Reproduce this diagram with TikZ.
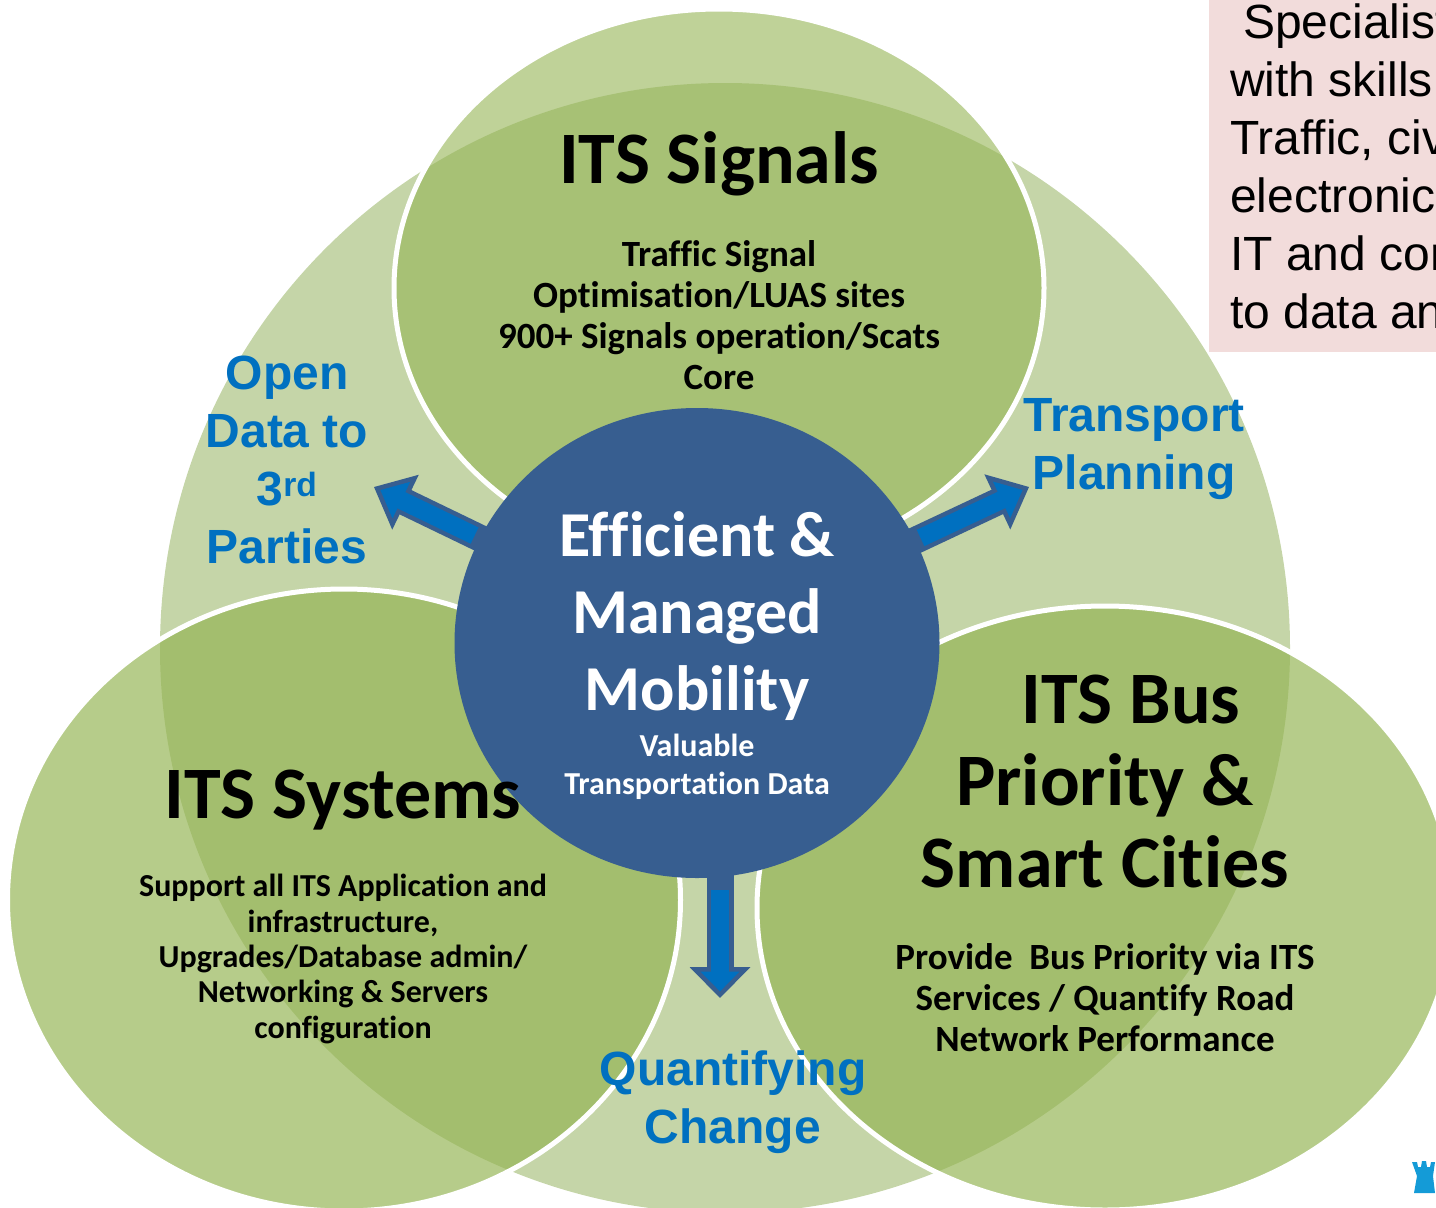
\documentclass[tikz,border=0pt]{standalone}
\usepackage{fontspec}
\setmainfont{Carlito}[Ligatures=NoCommon]
\newfontfamily\arialfont{Liberation Sans}
\usetikzlibrary{arrows.meta}
\usetikzlibrary{shapes.geometric}
\usetikzlibrary{backgrounds}
\definecolor{lsage}{RGB}{197,213,168}
\definecolor{lolive}{RGB}{148,180,83}
\definecolor{lhub}{RGB}{55,94,144}
\definecolor{lflow}{RGB}{0,112,192}
\definecolor{lpink}{RGB}{242,220,219}
\definecolor{ltower}{RGB}{20,155,215}

\tikzset{
  lobe/.style={ellipse,inner sep=0pt,draw=white,line width=5pt,fill=lolive,fill opacity=#1},
  headline/.style={align=center,text=black,font=\bfseries\fontsize{74}{82}\selectfont},
  bodytext/.style={align=center,text=black,font=\bfseries\fontsize{37}{41}\selectfont},
  smalltext/.style={align=center,text=black,font=\bfseries\fontsize{32}{35.3}\selectfont},
  flowlabel/.style={align=center,text=lflow,font=\arialfont\bfseries\fontsize{48}{58}\selectfont},
  flowarrow/.style 2 args={draw=lhub,line width=27pt,
    -{Triangle[length=#1,width=60pt,line width=4.5pt,fill=lflow]},
    postaction={draw=lflow,-,line width=18pt,shorten <=247pt,shorten >=#2}}
}

\begin{document}
\begin{tikzpicture}[x=1pt,y=-1pt]
  \useasboundingbox (0,0) rectangle (1436,1208);
  \clip (0,0) rectangle (1436,1208);

  \node[ellipse,inner sep=0pt,fill=lhub,minimum width=485pt,minimum height=470pt] (hub) at (697,643) {};
  \coordinate (openTip) at (374,487);
  \coordinate (planTip) at (1029,487);
  \coordinate (changeTip) at (720,998);

  \begin{scope}[on background layer]
    \node[ellipse,inner sep=0pt,fill=lsage,minimum width=1130pt,minimum height=1130pt] (field) at (725,648) {};
    \node[lobe=0.6,minimum width=650pt,minimum height=558pt] (signals) at (719,288) {};
    \node[lobe=0.68,minimum width=673pt,minimum height=622pt] (systems) at (344,900) {};
    \node[lobe=0.68,minimum width=696pt,minimum height=604pt] (bus) at (1105,908) {};
    \draw[flowarrow={35pt}{20pt}] (hub.center) -- (openTip);
    \draw[flowarrow={35pt}{20pt}] (hub.center) -- (planTip);
    \draw[flowarrow={31pt}{17pt}] (hub.center -| changeTip) -- (changeTip);
  \end{scope}

  \node[headline] (signalsTitle) at (719,164) {ITS Signals};
  \node[bodytext] (signalsBody) at (719,315) {Traffic Signal\\Optimisation/LUAS sites\\900+ Signals operation/Scats\\Core};

  \node[headline] (systemsTitle) at (343,800) {ITS Systems};
  \node[smalltext] (systemsBody) at (343,959) {Support all ITS Application and\\infrastructure,\\Upgrades/Database admin/\\Networking \& Servers\\configuration};

  \node[headline] (busTitle) at (1105,781) {\hspace*{52pt}ITS Bus\\Priority \&\\Smart Cities};
  \node[bodytext] (busBody) at (1105,998) {Provide\ \ Bus Priority via ITS\\Services / Quantify Road\\Network Performance};

  \node[align=center,text=white,font=\bfseries\fontsize{64}{77}\selectfont] (hubTitle) at (697,616) {Efficient \&\\Managed\\Mobility};
  \node[align=center,text=white,font=\bfseries\fontsize{32}{38}\selectfont] (hubBody) at (697,767) {Valuable\\Transportation Data};

  \node[flowlabel] (openLabel) at (287,460) {Open\\Data to\\3\textsuperscript{rd}\\Parties};
  \node[flowlabel] (planLabel) at (1134,449) {Transport\\Planning};
  \node[flowlabel] (changeLabel) at (733,1102) {Quantifying\\Change};

  \node[anchor=north west,fill=lpink,inner sep=0pt,minimum width=240pt,minimum height=352pt] (skillsBox) at (1209,0) {};
  \node[anchor=north west,inner sep=0pt,align=left,text=black,font=\arialfont\fontsize{48}{58}\selectfont] (skillsText) at (1230,4) {\hspace*{13pt}Specialist\\with skills\\Traffic, civ\\electronic\\IT and con\\to data an};

  \fill[ltower] (1412,1162) -- (1417,1162) -- (1418,1167) -- (1421,1167) -- (1422,1161) -- (1426,1161) -- (1427,1167) -- (1430,1167) -- (1431,1162) -- (1435,1162) -- (1433,1176) -- (1435,1193) -- (1414,1193) -- (1417,1176) -- cycle;
\end{tikzpicture}
\end{document}
